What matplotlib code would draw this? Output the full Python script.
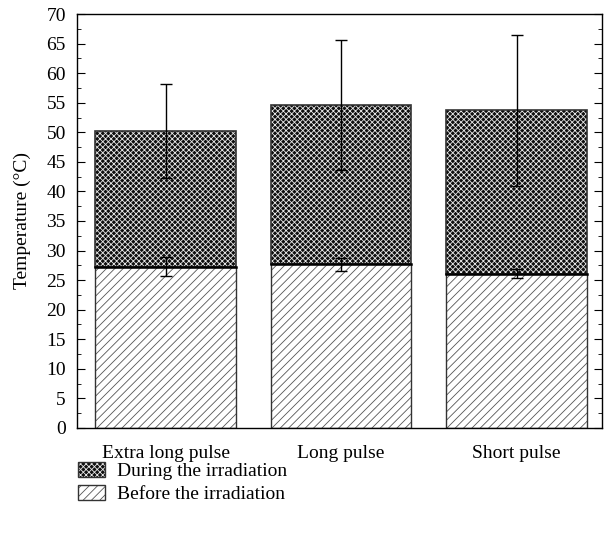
import matplotlib
matplotlib.use("Agg")
import matplotlib.pyplot as plt
import matplotlib.patches as mpatches
from matplotlib.legend_handler import HandlerTuple
from matplotlib.ticker import MultipleLocator
import numpy as np

categories = ["Extra long pulse", "Long pulse", "Short pulse"]
before = [27.3, 27.7, 26.1]
before_err = [1.6, 1.1, 0.8]
total = [50.2, 54.6, 53.7]
total_err = [8.0, 11.0, 12.8]
during = [t - b for t, b in zip(total, before)]

plt.rcParams['font.family'] = ['Liberation Serif', 'DejaVu Serif']
plt.rcParams['hatch.linewidth'] = 0.6

FS = 14

fig = plt.figure(figsize=(6.04, 5.39), dpi=100)
ax = fig.add_axes([0.1275, 0.206, 0.870, 0.768])

x = np.arange(len(categories))
w = 0.8

TOPC = '#0f0f0f'
# bottom segment
ax.bar(x, before, w, color='white', edgecolor='#555555', hatch='////', linewidth=0)
ax.bar(x, before, w, fill=False, edgecolor='#333333', linewidth=1.0)
# top segment
ax.bar(x, during, w, bottom=before, color=TOPC, edgecolor='#e8e8e8', hatch='xxxxxx', linewidth=0)
ax.bar(x, during, w, bottom=before, fill=False, edgecolor='#333333', linewidth=1.2)
# boundary line
for xi, b in zip(x, before):
    ax.plot([xi - w/2, xi + w/2], [b, b], color='black', lw=1.8, zorder=3)

ax.errorbar(x, total, yerr=total_err, fmt='none', ecolor='black', elinewidth=1.0, capsize=4, capthick=1.0, zorder=4)
ax.errorbar(x, before, yerr=before_err, fmt='none', ecolor='black', elinewidth=1.0, capsize=4, capthick=1.0, zorder=4)

ax.set_xlim(-0.505, 2.49)
ax.set_ylim(0, 70)
ax.yaxis.set_major_locator(MultipleLocator(5))
ax.yaxis.set_minor_locator(MultipleLocator(2.5))
ax.tick_params(axis='y', which='both', direction='in', right=True, labelsize=FS, pad=8)
ax.tick_params(axis='y', which='major', length=6)
ax.tick_params(axis='y', which='minor', length=3)
ax.set_xticks(x)
ax.set_xticklabels(categories, fontsize=FS)
ax.tick_params(axis='x', length=0, pad=12)
ax.set_ylabel("Temperature (°C)", fontsize=FS, labelpad=11)
for s in ax.spines.values():
    s.set_linewidth(1.0)

h1 = mpatches.Patch(facecolor=TOPC, edgecolor='#e8e8e8', hatch='xxxxxx', linewidth=0)
h2 = mpatches.Patch(facecolor='white', edgecolor='#555555', hatch='////', linewidth=0)
o1 = mpatches.Patch(fill=False, edgecolor='#333333', linewidth=1.0)
o2 = mpatches.Patch(fill=False, edgecolor='#333333', linewidth=1.0)
leg = fig.legend([(h1, o1), (h2, o2)], ["During the irradiation", "Before the irradiation"],
                 handler_map={tuple: HandlerTuple(ndivide=1)},
                 loc='upper left', bbox_to_anchor=(0.106, 0.169), frameon=False,
                 fontsize=FS, handlelength=1.4, handleheight=0.85, labelspacing=0.25,
                 handletextpad=0.65, borderpad=0.2)
fig.savefig("out.png", dpi=100)
